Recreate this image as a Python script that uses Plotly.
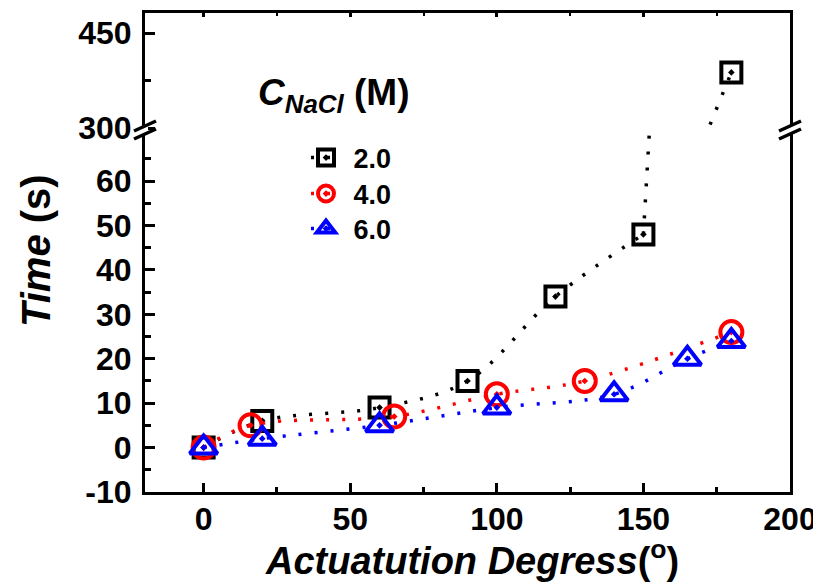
import plotly.graph_objects as go

# ---------------- data ----------------
deg_2M = [0, 20, 60, 90, 120, 150, 180]
time_2M = [0, 6, 9, 15, 34, 48, 388]

deg_4M = [0, 16, 65, 100, 130, 180]
time_4M = [0, 5, 7, 12, 15, 26]

deg_6M = [0, 20, 60, 100, 140, 165, 180]
time_6M = [0, 2, 5, 9, 12, 20, 24]

series_names = ["2.0", "4.0", "6.0"]
x_ticks = [0, 50, 100, 150, 200]
y_low_ticks = [-10, 0, 10, 20, 30, 40, 50, 60]
y_low_labels = ["-10", "0", "10", "20", "30", "40", "50", "60"]
y_low_minor = [-5, 5, 15, 25, 35, 45, 55, 65]
y_up_ticks = [300, 450]
y_up_minor = [375]

# ---------------- style ----------------
FONT = "Liberation Sans"
W, H = 821, 583
OFF = 8  # page body margin
SX0, SX1, SY0, SY1 = 145, 790, 13, 492
L = SX0 - OFF
T = SY0 - OFF
R = W - (SX1 - OFF)
B = H - (SY1 - OFF)
PW, PH = SX1 - SX0, SY1 - SY0
SPLIT = (SY1 - 130) / PH
DASH = "3px,13px"

def px(xs):
    return (xs - SX0) / PW

def py(ys):
    return (SY1 - ys) / PH

fig = go.Figure()

styles = [
    dict(color="black", symbol="square-open-dot", size=20),
    dict(color="red", symbol="circle-open-dot", size=22),
    dict(color="blue", symbol="triangle-up-open-dot", size=24),
]
legend_ids = ["legend", "legend2", "legend3"]

def marker(st):
    return dict(symbol=st["symbol"], size=st["size"], color=st["color"],
                line=dict(color=st["color"], width=4))

def line(st):
    return dict(color=st["color"], width=3.5, dash=DASH, shape="spline", smoothing=1)

st = styles[0]
fig.add_trace(go.Scatter(x=deg_2M[:-1], y=time_2M[:-1], mode="lines+markers",
                         name="\u00a0" + series_names[0], legend=legend_ids[0],
                         line=line(st), marker=marker(st),
                         xaxis="x", yaxis="y", cliponaxis=True))
fig.add_trace(go.Scatter(x=deg_2M[-2:], y=time_2M[-2:], mode="lines",
                         showlegend=False, line=dict(color="black", width=3.5, dash=DASH),
                         xaxis="x", yaxis="y", hoverinfo="skip"))
fig.add_trace(go.Scatter(x=deg_2M[-2:], y=time_2M[-2:], mode="lines+markers",
                         showlegend=False, line=dict(color="black", width=3.5, dash=DASH),
                         marker=marker(st), xaxis="x2", yaxis="y2", cliponaxis=True))

for i, (xs, ys) in enumerate([(deg_4M, time_4M), (deg_6M, time_6M)], start=1):
    st = styles[i]
    fig.add_trace(go.Scatter(x=xs, y=ys, mode="lines+markers",
                             name="\u00a0" + series_names[i], legend=legend_ids[i],
                             line=line(st), marker=marker(st),
                             xaxis="x", yaxis="y", cliponaxis=True))

tickfont = dict(family=FONT, size=32, color="black", weight="bold")
axis_common = dict(showline=True, linewidth=3, linecolor="black", ticks="inside",
                   tickwidth=3, tickcolor="black", showgrid=False, zeroline=False,
                   tickfont=tickfont, automargin=False)

legend_font = dict(family=FONT, size=27, color="black", weight="bold")
legend_y = [158, 194, 229]
legends = {}
for lid, ys in zip(legend_ids, legend_y):
    legends[lid] = dict(x=px(306), y=py(ys), xanchor="left", yanchor="middle",
                        bgcolor="rgba(0,0,0,0)", borderwidth=0, font=legend_font,
                        itemwidth=30)

fig.update_layout(
    width=W, height=H,
    margin=dict(l=L, r=R, t=T, b=B, autoexpand=False),
    plot_bgcolor="white", paper_bgcolor="white",
    font=dict(family=FONT, color="black"),
    xaxis=dict(domain=[0, 1], anchor="y", range=[-20, 200], tickvals=x_ticks,
               ticklen=9, mirror=False, ticklabelstandoff=-3,
               minor=dict(dtick=25, ticklen=5, tickwidth=3, ticks="inside", tickcolor="black", showgrid=False),
               **axis_common),
    yaxis=dict(domain=[0, SPLIT], anchor="x", range=[-10, 71.5], tickmode="array",
               tickvals=y_low_ticks, ticktext=y_low_labels, ticklen=10, mirror=True,
               ticklabelstandoff=4,
               minor=dict(tickmode="array", tickvals=y_low_minor, ticklen=6, tickwidth=3,
                          ticks="inside", tickcolor="black", showgrid=False),
               **axis_common),
    xaxis2=dict(domain=[0, 1], anchor="y2", matches="x", range=[-20, 200], side="top",
                tickvals=x_ticks, ticklen=4, showticklabels=False, mirror=False,
                minor=dict(dtick=25, ticklen=3, tickwidth=2, ticks="inside", tickcolor="black", showgrid=False),
                **axis_common),
    yaxis2=dict(domain=[SPLIT, 1], anchor="x2", range=[297, 482], tickmode="array",
                tickvals=y_up_ticks, ticklen=10, mirror=True, ticklabelstandoff=4,
                minor=dict(tickmode="array", tickvals=y_up_minor, ticklen=6, tickwidth=3,
                           ticks="inside", tickcolor="black", showgrid=False),
                **axis_common),
    showlegend=True,
    **legends,
)

annotations = [
    dict(text="<i>C</i><sub><i>NaCl</i></sub> (M)", x=px(256), y=py(95),
         xref="paper", yref="paper",
         xanchor="left", yanchor="middle", showarrow=False,
         font=dict(family=FONT, size=37, color="black", weight="bold")),
    dict(text="<i>Time</i> (s)", x=px(36), y=py(250), textangle=-90,
         xref="paper", yref="paper",
         xanchor="center", yanchor="middle", showarrow=False,
         font=dict(family=FONT, size=40, color="black", weight="bold")),
    dict(text="<i>Actuatution Degress</i>(<sup>o</sup>)", x=px(472), y=py(558),
         xref="paper", yref="paper",
         xanchor="center", yanchor="middle", showarrow=False,
         font=dict(family=FONT, size=38, color="black", weight="bold")),
]
fig.update_layout(annotations=annotations)

shapes = []
for xc in (SX0, SX1):
    shapes.append(dict(type="rect", xref="paper", yref="paper",
                       x0=px(xc - 3), x1=px(xc + 3), y0=py(134), y1=py(126),
                       fillcolor="white", line=dict(width=0), layer="above"))
    for yc in (134, 126):
        shapes.append(dict(type="line", xref="paper", yref="paper",
                           x0=px(xc - 11), y0=py(yc + 5), x1=px(xc + 11), y1=py(yc - 5),
                           line=dict(color="black", width=3.5), layer="above"))
fig.update_layout(shapes=shapes)

fig.write_html("out.html")
